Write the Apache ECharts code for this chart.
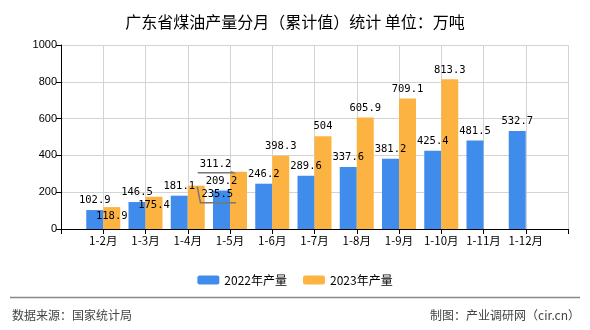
<!DOCTYPE html>
<html>
<head>
<meta charset="utf-8">
<script src="https://cdn.jsdelivr.net/npm/echarts@6/dist/echarts.min.js"></script>
<style>
html,body{margin:0;padding:0;background:#fff;}
#c{width:590px;height:330px;}
</style>
</head>
<body>
<div id="c"></div>
<script>
const months = ['1-2月','1-3月','1-4月','1-5月','1-6月','1-7月','1-8月','1-9月','1-10月','1-11月','1-12月'];
const prod2022 = [102.9, 146.5, 181.1, 209.2, 246.2, 289.6, 337.6, 381.2, 425.4, 481.5, 532.7];
const prod2023 = [118.9, 175.4, 235.5, 311.2, 398.3, 504, 605.9, 709.1, 813.3, null, null];
const seriesNames = ['2022年产量', '2023年产量'];
const yTicks = [0, 200, 400, 600, 800, 1000];

// label displacement (style) for the 2023 series: [dx, dy, guideLineType]
const shift2023 = {0: [0, 19, 0], 1: [0, 18, 0], 2: [21, 18, 1], 3: [-23, 2, 2]};

const cats = [''].concat(months, ['']);
const pad = arr => [null].concat(arr, [null]);

const BAR_W = 17, LBL_DIST = 4, LBL_FS = 10.5;
const chart = echarts.init(document.getElementById('c'), null, {renderer: 'canvas'});
const labelFont = {fontFamily: 'DejaVu Sans Mono', fontSize: LBL_FS, color: '#000'};

const baseGraphic = [
  {id: 'rule', type: 'line', shape: {x1: 10, y1: 297.5, x2: 580, y2: 297.5}, style: {stroke: '#888', lineWidth: 1.5}},
  {id: 'src', type: 'text', left: 12, top: 309, style: {text: '数据来源：国家统计局', font: '12px "Noto Sans CJK SC"', fill: '#444'}},
  {id: 'by', type: 'text', right: 10, top: 309, style: {text: '制图：产业调研网（cir.cn）', font: '12px "Noto Sans CJK SC"', fill: '#444'}}
];

chart.setOption({
  animation: false,
  backgroundColor: '#fff',
  title: {
    text: '广东省煤油产量分月（累计值）统计 单位：万吨',
    left: 'center', top: 9,
    textStyle: {fontFamily: 'Noto Sans CJK SC', fontSize: 16, fontWeight: 'normal', color: '#000'}
  },
  legend: {
    top: 269, left: 'center',
    itemWidth: 22, itemHeight: 9, itemGap: 16,
    textStyle: {fontFamily: 'Noto Sans CJK SC', fontSize: 12, color: '#000'},
    data: seriesNames
  },
  grid: {left: 61, right: 22, top: 45, bottom: 101, containLabel: false},
  xAxis: {
    type: 'category',
    data: cats,
    boundaryGap: false,
    axisLine: {lineStyle: {color: '#000', width: 1}},
    axisTick: {show: true, interval: 0, length: 5, lineStyle: {color: '#000'}},
    axisLabel: {interval: 0, fontFamily: 'Noto Sans CJK SC', fontSize: 11.5, color: '#000', margin: 6},
    splitLine: {show: true, interval: 0, lineStyle: {color: '#d3d3d3', width: 1}}
  },
  yAxis: {
    type: 'value',
    min: yTicks[0], max: yTicks[yTicks.length - 1], interval: 200,
    axisLine: {show: true, lineStyle: {color: '#000', width: 1}},
    axisTick: {show: true, length: 5, lineStyle: {color: '#000'}},
    axisLabel: {fontFamily: 'Liberation Sans', fontSize: 11, color: '#000', margin: 4, formatter: v => String(v)},
    splitLine: {show: true, lineStyle: {color: '#d3d3d3', width: 1}}
  },
  series: [
    {
      name: seriesNames[0], type: 'bar', data: pad(prod2022),
      barWidth: BAR_W, barGap: '0%',
      itemStyle: {color: '#3f8ced'},
      label: Object.assign({show: true, position: 'top', distance: LBL_DIST}, labelFont)
    },
    {
      name: seriesNames[1], type: 'bar', data: pad(prod2023),
      barWidth: BAR_W, barGap: '0%',
      itemStyle: {color: '#fcb342'},
      label: Object.assign({show: true, position: 'top', distance: LBL_DIST}, labelFont),
      labelLayout: function (p) {
        const s = shift2023[p.dataIndex - 1];
        return s ? {dx: s[0], dy: s[1]} : {};
      }
    }
  ],
  graphic: baseGraphic
});

// guide lines for displaced labels, positioned through the chart's own scales
const guides = [];
Object.keys(shift2023).forEach(function (k) {
  const i = +k, s = shift2023[i];
  if (!s[2]) return;
  const v = prod2023[i];
  const p = chart.convertToPixel({xAxisIndex: 0, yAxisIndex: 0}, [i + 1, v]);
  const barL = p[0], barR = p[0] + BAR_W, top = p[1];
  const txtW = String(v).length * LBL_FS * 0.602;
  const lc = (barL + barR) / 2 + s[0];
  const lb = top - LBL_DIST + s[1] + 3;
  const lx0 = lc - txtW / 2 - 1, lx1 = lc + txtW / 2 + 1;
  let pts;
  if (s[2] === 1) pts = [[(barL + barR) / 2 + 1, top + 1], [lx0, lb], [lx1 + 2, lb]];
  else pts = [[lx0 - 1, lb], [lx1 + 1, lb], [barL + 1, top]];
  guides.push({id: 'guide' + i, type: 'polyline', z: 100, shape: {points: pts}, style: {stroke: '#777', lineWidth: 1.5, fill: null}});
});
chart.setOption({graphic: baseGraphic.concat(guides)});
</script>
</body>
</html>
